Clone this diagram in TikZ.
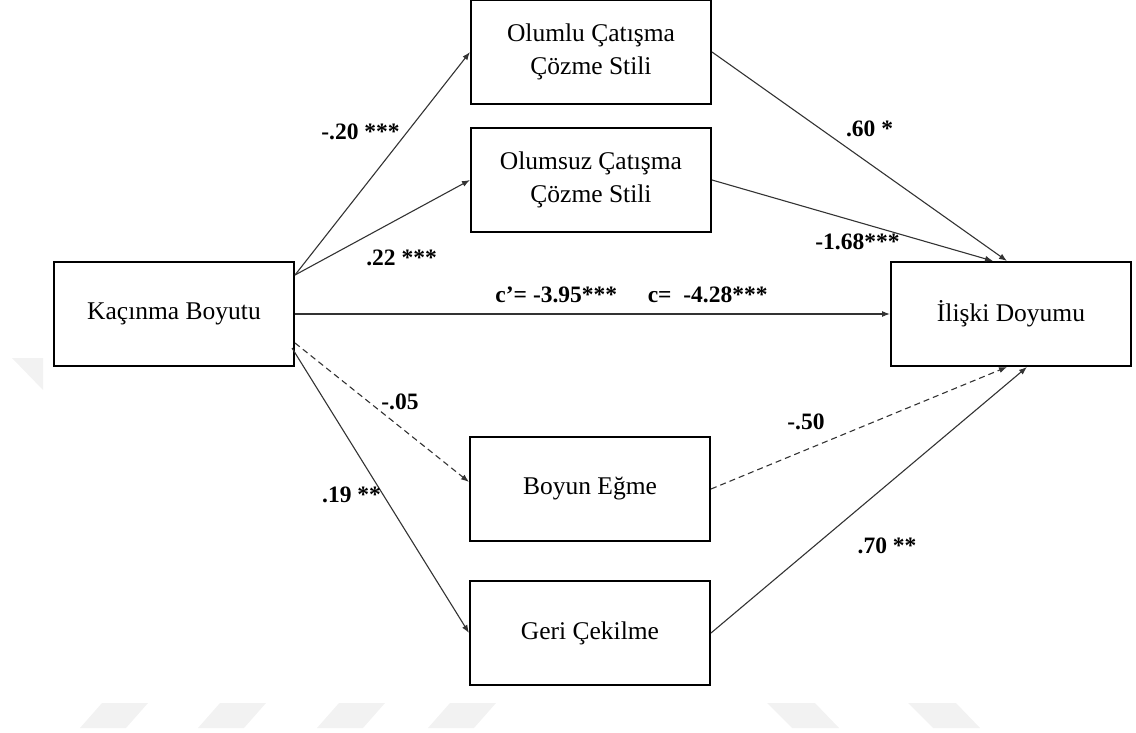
\documentclass[tikz,border=0pt]{standalone}
\usepackage{fontspec}
\setmainfont{Liberation Serif}
\usetikzlibrary{arrows.meta, positioning}

\begin{document}
\begin{tikzpicture}[x=1pt, y=-1pt,
    kutu/.style={draw, line width=2pt, minimum width=240pt, minimum height=104pt, align=center, font=\fontsize{25.5}{33}\selectfont},
    ok/.style={draw=black!80, line width=1.1pt, -{Latex[length=8pt,width=6pt]}},
    kesikli/.style={dash pattern=on 6pt off 4pt},
    katsayi/.style={font=\fontsize{23.5}{28}\selectfont\bfseries},
    filigran/.style={fill=black!5, draw=none}
]
    \useasboundingbox (0,0) rectangle (1136,733);

    % Watermark
    \fill[filigran] (12,358) -- (43,358) -- (43,390) -- cycle;
    \foreach \x in {80,198,317,428}
        \fill[filigran] ({\x+22},703) -- ({\x+68},703) -- ({\x+46},728) -- (\x,728) -- cycle;
    \foreach \x in {767,908}
        \fill[filigran] (\x,703) -- ({\x+48},703) -- ({\x+72},728) -- ({\x+25},728) -- cycle;

    % Nodes
    \node[kutu] (kacinma) at (174,314) {Kaçınma Boyutu};
    \node[kutu] (olumsuz) at (591,180) {Olumsuz Çatışma\\Çözme Stili};
    \node[kutu, above=22pt of olumsuz] (olumlu) {Olumlu Çatışma\\Çözme Stili};
    \node[kutu] (iliski) at (1011,314) {İlişki Doyumu};
    \node[kutu] (boyun) at (590,489) {Boyun Eğme};
    \node[kutu, below=38pt of boyun] (geri) {Geri Çekilme};

    % Paths from Kaçınma Boyutu
    \draw[ok] ([yshift=39pt]kacinma.east) -- node[katsayi, xshift=-22pt, yshift=32pt] {-.20 ***} (olumlu.west);
    \draw[ok] ([yshift=39pt]kacinma.east) -- node[katsayi, xshift=19pt, yshift=-30pt] {.22 ***} (olumsuz.west);
    \draw[ok] (kacinma) -- node[katsayi, xshift=39pt, yshift=19pt] {c’= -3.95***\hspace{1.3em}c=~ -4.28***} (iliski);
    \draw[ok, kesikli] ([yshift=-29pt]kacinma.east) -- node[katsayi, xshift=18pt, yshift=11pt] {-.05} ([yshift=7pt]boyun.west);
    \draw[ok] ([xshift=-3pt, yshift=-34pt]kacinma.east) -- node[katsayi, xshift=-29pt, yshift=-4pt] {.19 **} (geri.west);

    % Paths into İlişki Doyumu
    \draw[ok] (olumlu.east) -- node[katsayi, xshift=10pt, yshift=28pt] {.60 *} ([xshift=-4pt]iliski.north);
    \draw[ok] (olumsuz.east) -- node[katsayi, xshift=5pt, yshift=-21pt] {-1.68***} ([xshift=-18pt]iliski.north);
    \draw[ok, kesikli] (boyun.east) -- node[katsayi, xshift=-53pt, yshift=6pt] {-.50} ([xshift=-4pt]iliski.south);
    \draw[ok] (geri.east) -- node[katsayi, xshift=18pt, yshift=-46pt] {.70 **} ([xshift=16pt]iliski.south);

\end{tikzpicture}
\end{document}
